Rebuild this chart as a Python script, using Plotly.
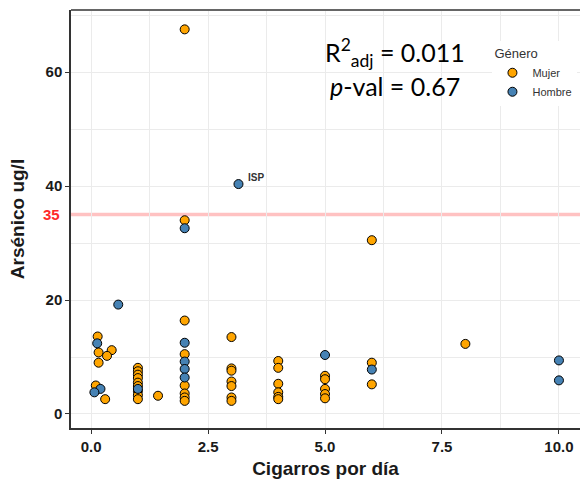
import plotly.graph_objects as go

# ---- data ----
mujer_x = [0.14, 0.16, 0.44, 0.34, 0.16, 0.10, 0.30,
           1, 1, 1, 1, 1, 1, 1, 1, 1, 1.43,
           2, 2, 2, 2, 2, 2, 2, 2,
           3, 3, 3, 3, 3, 3, 3,
           4, 4, 4, 4, 4, 4,
           5, 5, 5, 5, 5,
           6, 6, 6, 8]
mujer_y = [13.6, 10.8, 11.2, 10.2, 9.0, 5.0, 2.6,
           8.1, 7.5, 6.9, 6.3, 5.5, 4.9, 4.0, 3.3, 2.6, 3.2,
           67.5, 34.0, 16.4, 10.5, 5.0, 3.6, 2.9, 2.3,
           13.5, 8.0, 7.6, 5.7, 4.9, 2.9, 2.3,
           9.3, 8.1, 5.3, 3.8, 3.0, 2.6,
           6.7, 6.1, 4.4, 3.5, 2.75,
           30.5, 9.0, 5.2, 12.3]
hombre_x = [0.58, 0.13, 0.20, 0.07, 1, 2, 2, 2, 2, 2, 3.15, 5, 6, 10, 10]
hombre_y = [19.2, 12.4, 4.4, 3.8, 4.4, 32.6, 12.5, 9.2, 7.9, 6.4, 40.35, 10.35, 7.8, 9.4, 5.9]

x_ticks = [0, 2.5, 5.0, 7.5, 10.0]
x_tick_labels = ["0.0", "2.5", "5.0", "7.5", "10.0"]
y_ticks = [0, 20, 40, 60]
threshold = 35
isp_point = (3.15, 40.35)

fig = go.Figure()
fig.add_trace(go.Scatter(
    x=mujer_x, y=mujer_y, mode="markers", name="Mujer",
    marker=dict(size=9, color="#FFA500", line=dict(color="black", width=1)),
))
fig.add_trace(go.Scatter(
    x=hombre_x, y=hombre_y, mode="markers", name="Hombre",
    marker=dict(size=9, color="#4682B4", line=dict(color="black", width=1)),
))

fig.add_shape(type="line", xref="paper", x0=0, x1=1, yref="y", y0=threshold, y1=threshold,
              line=dict(color="rgba(255,30,30,0.27)", width=3.5), layer="below")

fig.add_annotation(xref="paper", x=-0.017, yref="y", y=threshold, text="<b>35</b>",
                   showarrow=False, xanchor="right", font=dict(family="Liberation Sans", size=15, color="#FF2A2A"))
fig.add_annotation(x=isp_point[0] + 0.15, y=isp_point[1] + 1.2, text="<b>ISP</b>",
                   showarrow=False, xanchor="left", font=dict(family="Liberation Sans", size=10, color="#333333"))
fig.add_annotation(x=6.5, y=63.5, text="R<sup>2</sup><sub>adj</sub> = 0.011",
                   showarrow=False, xanchor="center", font=dict(family="Lato", size=25, color="black"))
fig.add_annotation(x=6.5, y=57.5, text="<i>p</i>-val = 0.67",
                   showarrow=False, xanchor="center", font=dict(family="Lato", size=25, color="black"))

grid = "#EBEBEB"
fig.update_layout(
    width=580, height=483,
    margin=dict(l=71, r=0, t=10, b=55),
    paper_bgcolor="white", plot_bgcolor="white",
    font=dict(family="Liberation Sans", color="#1a1a1a"),
    showlegend=True,
    legend=dict(
        x=0.828, y=0.925, xanchor="left", yanchor="top",
        bgcolor="white",
        title=dict(text="Género", font=dict(size=13, color="#333333")),
        font=dict(size=11, color="#333333"),
        tracegroupgap=0,
    ),
    xaxis=dict(
        range=[-0.43, 10.45],
        tickvals=x_ticks, ticktext=x_tick_labels,
        tickfont=dict(size=15, color="#1a1a1a", family="Liberation Sans", weight="bold"),
        ticks="outside", ticklen=4, tickcolor="#333333",
        showgrid=True, gridcolor=grid, gridwidth=1,
        minor=dict(dtick=1.25, tick0=1.25, showgrid=True, gridcolor=grid, gridwidth=1, ticks=""),
        showline=True, linecolor="#333333", linewidth=1.5, mirror=False,
        zeroline=False,
        title=dict(text="<b>Cigarros por día</b>", font=dict(size=19, color="#1a1a1a"), standoff=8),
    ),
    yaxis=dict(
        range=[-2.46, 70.9],
        tickvals=y_ticks,
        tickfont=dict(size=15, color="#1a1a1a", family="Liberation Sans", weight="bold"),
        ticks="outside", ticklen=4, tickcolor="#333333",
        showgrid=True, gridcolor=grid, gridwidth=1,
        minor=dict(dtick=10, tick0=10, showgrid=True, gridcolor=grid, gridwidth=1, ticks=""),
        showline=True, linecolor="#333333", linewidth=1.5,
        zeroline=False,
        title=dict(text="<b>Arsénico ug/l</b>", font=dict(size=19, color="#1a1a1a"), standoff=16),
    ),
)
# top border of panel
fig.add_shape(type="line", xref="paper", yref="paper", x0=0, x1=1, y0=1, y1=1,
              line=dict(color="#666666", width=2))

fig.write_html("out.html")
